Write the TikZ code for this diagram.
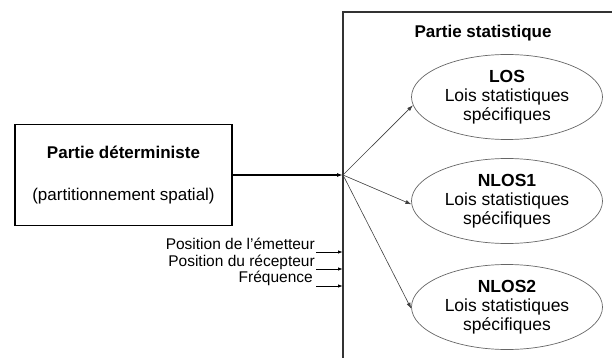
\documentclass[tikz,border=0pt]{standalone}
\usepackage{fontspec}
\setmainfont{Liberation Sans}
\usetikzlibrary{arrows.meta,positioning,shapes.geometric}

\begin{document}
\begin{tikzpicture}[x=1pt,y=-1pt,
    bloc/.style={draw=black,line width=1.3pt,minimum width=217pt,minimum height=101pt,
        align=center,font=\fontsize{17}{21}\selectfont},
    loi/.style={draw=black!60,line width=0.7pt,ellipse,minimum width=191pt,minimum height=85pt,
        inner sep=0pt,align=center,font=\fontsize{17.5}{19}\selectfont},
    fleche/.style={-{Latex[length=6pt,width=4pt]},line width=0.6pt,black!75},
    entree/.style={-{Latex[length=5pt,width=3.5pt]},line width=0.9pt},
    lbl/.style={anchor=base east,inner sep=0pt,font=\fontsize{15.5}{17}\selectfont}]
        \useasboundingbox (0,0) rectangle (612,358);
        \clip (0,0) rectangle (612,358);
        % partie statistique
        \node[draw=black!80,line width=1.3pt,outer sep=0pt,minimum width=320pt,minimum height=380pt,
            anchor=north west] (stat) at (343,12) {};
        \node[font=\fontsize{17}{19}\selectfont\bfseries] (titre) at (483,33) {Partie statistique};
        \node[loi] (los) at (507,97) {\textbf{LOS}\\Lois statistiques\\spécifiques};
        \node[loi] (nlos1) at (507,201) {\textbf{NLOS1}\\Lois statistiques\\spécifiques};
        \node[loi] (nlos2) at (507,307) {\textbf{NLOS2}\\Lois statistiques\\spécifiques};
        % partie deterministe
        \node[bloc] (det) at (123.5,175) {\textbf{Partie déterministe}\\[21pt](partitionnement spatial)};
        \coordinate (hub) at (stat.west |- det.east);
        \draw[line width=1.5pt,-{Latex[length=6pt,width=4pt]}] (det.east) -- (hub);
        \draw[fleche] (hub) -- (los.185);
        \draw[fleche] (hub) -- (nlos1.182);
        \draw[fleche] (hub) -- (nlos2.181);
        % entrees
        \coordinate (e1) at (316,252);
        \coordinate (e2) at (316,269);
        \coordinate (e3) at (316,286);
        \draw[entree] (e1) -- (e1 -| stat.west);
        \draw[entree] (e2) -- (e2 -| stat.west);
        \draw[entree] (e3) -- (e3 -| stat.west);
        \node[lbl] (emet) at (315,249) {Position de l’émetteur};
        \node[lbl] (recep) at (315,266) {Position du récepteur};
        \node[lbl] (freq) at (313,282) {Fréquence};
\end{tikzpicture}
\end{document}
